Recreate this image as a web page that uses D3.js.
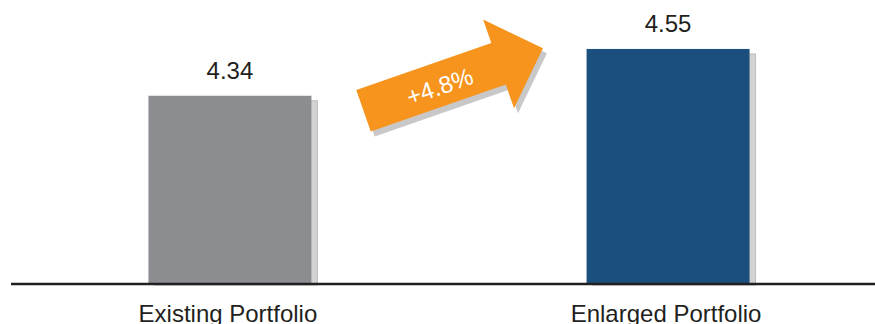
<!DOCTYPE html>
<html>
<head>
<meta charset="utf-8">
<script src="https://cdn.jsdelivr.net/npm/d3@7"></script>
<style>
  body { margin: 0; background: #fff; }
  svg { display: block; }
  text { font-family: "Liberation Sans", Arial, Helvetica, sans-serif; }
</style>
</head>
<body>
<script>
const categories = ['Existing Portfolio', 'Enlarged Portfolio'];
const values = [4.34, 4.55];
const valueLabels = ['4.34', '4.55'];
const barColors = ['#8c8d90', '#1b4f7e'];

const width = 875;
const height = 324;
const baseY = 284;

const svg = d3.select('body').append('svg')
  .attr('width', width)
  .attr('height', height);

const x = d3.scaleBand()
  .domain(categories)
  .range([17, 881])
  .paddingInner(0.628)
  .paddingOuter(0.3);

const y = d3.scaleLinear()
  .domain([3.5, 4.7])
  .range([baseY - 1, baseY - 1 - 1.2 * 222.9]);

const data = categories.map((c, i) => ({ cat: c, value: values[i], label: valueLabels[i], color: barColors[i] }));

// shadows
svg.append('g').selectAll('rect')
  .data(data)
  .enter()
  .append('rect')
  .attr('x', d => x(d.cat) + 6)
  .attr('y', d => y(d.value) + 5)
  .attr('width', x.bandwidth())
  .attr('height', d => y.range()[0] - y(d.value) - 3)
  .attr('fill', '#d3d3d3')
  .attr('stroke', '#bdbdbd')
  .attr('stroke-width', 1);

// bars
svg.append('g').selectAll('rect')
  .data(data)
  .enter()
  .append('rect')
  .attr('x', d => x(d.cat))
  .attr('y', d => y(d.value))
  .attr('width', x.bandwidth())
  .attr('height', d => y.range()[0] - y(d.value))
  .attr('fill', d => d.color);

// value labels
svg.append('g').selectAll('text')
  .data(data)
  .enter()
  .append('text')
  .attr('x', d => x(d.cat) + x.bandwidth() / 2)
  .attr('y', d => y(d.value) - 17)
  .attr('text-anchor', 'middle')
  .attr('font-size', 24)
  .attr('fill', '#231f20')
  .text(d => d.label);

// baseline
svg.append('line')
  .attr('x1', 11)
  .attr('x2', width)
  .attr('y1', baseY)
  .attr('y2', baseY)
  .attr('stroke', '#231f20')
  .attr('stroke-width', 2.3);

// category labels
svg.append('g').selectAll('text')
  .data(data)
  .enter()
  .append('text')
  .attr('x', d => x(d.cat) + x.bandwidth() / 2 - 2)
  .attr('y', 322)
  .attr('text-anchor', 'middle')
  .attr('font-size', 24)
  .attr('fill', '#231f20')
  .text(d => d.cat);

// growth arrow
const growth = (values[1] / values[0] - 1) * 100;
const shaftLen = 143, shaftW = 44, headLen = 47, headW = 94;
const arrowPts = [
  [0, -shaftW / 2], [shaftLen, -shaftW / 2], [shaftLen, -headW / 2],
  [shaftLen + headLen, 0],
  [shaftLen, headW / 2], [shaftLen, shaftW / 2], [0, shaftW / 2]
];
const arrowPath = 'M' + arrowPts.map(p => p.join(',')).join('L') + 'Z';

const arrow = svg.append('g')
  .attr('transform', 'translate(363.5,110.8) rotate(-19.2)');

svg.insert('path', 'g')
  .attr('d', arrowPath)
  .attr('transform', 'translate(367.5,115.8) rotate(-19.2)')
  .attr('fill', '#c8c8c8');

arrow.append('path')
  .attr('d', arrowPath)
  .attr('fill', '#f7941d');

arrow.append('text')
  .attr('x', 80)
  .attr('y', 2)
  .attr('text-anchor', 'middle')
  .attr('dominant-baseline', 'central')
  .attr('font-size', 24)
  .attr('fill', '#ffffff')
  .text('+' + growth.toFixed(1) + '%');
</script>
</body>
</html>
